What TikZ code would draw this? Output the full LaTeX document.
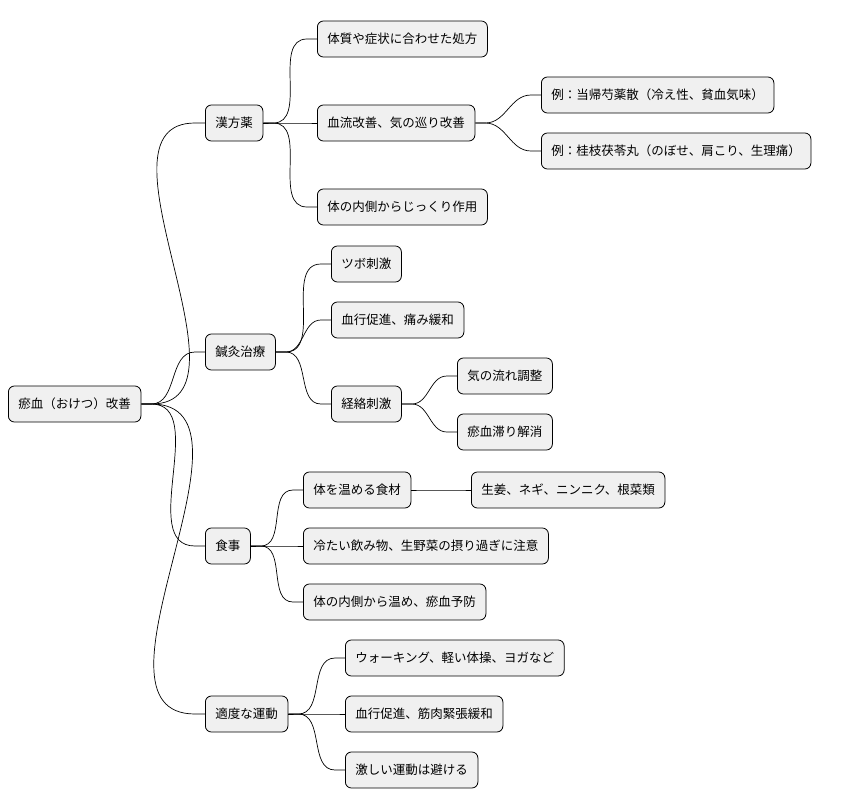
\documentclass[tikz,border=0pt]{standalone}
\usepackage{fontspec}
\setmainfont{Noto Sans CJK JP}
\usetikzlibrary{positioning}
\tikzset{
  topic/.style={draw=black, line width=0.8pt, fill=black!6, rounded corners=6pt,
    anchor=west, minimum height=36pt, inner xsep=10pt, font=\fontsize{12.5}{14}\selectfont},
  link/.style={line width=0.7pt, out=0, in=180}
}
\begin{document}
\begin{tikzpicture}[x=1pt, y=-1pt]
  \useasboundingbox (0,0) rectangle (852,809);
  % 中心
  \node[topic] (root) at (8,404) {瘀血（おけつ）改善};
  % 枝
  \node[topic] (kampo) at (205,123) {漢方薬};
  \node[topic] (shinkyu) at (205,352) {鍼灸治療};
  \node[topic] (shokuji) at (205,546) {食事};
  \node[topic] (undo) at (205,714) {適度な運動};
  % 漢方薬
  \node[topic] (k1) at (317,39) {体質や症状に合わせた処方};
  \node[topic] (k2) at (317,123) {血流改善、気の巡り改善};
  \node[topic] (k3) at (317,207) {体の内側からじっくり作用};
  \node[topic] (k21) at (541,95) {例：当帰芍薬散（冷え性、貧血気味）};
  \node[topic] (k22) at (541,151) {例：桂枝茯苓丸（のぼせ、肩こり、生理痛）};
  % 鍼灸治療
  \node[topic] (s1) at (331,264) {ツボ刺激};
  \node[topic] (s2) at (331,320) {血行促進、痛み緩和};
  \node[topic] (s3) at (331,404) {経絡刺激};
  \node[topic] (s31) at (457,376) {気の流れ調整};
  \node[topic] (s32) at (457,432) {瘀血滞り解消};
  % 食事
  \node[topic] (f1) at (303,490) {体を温める食材};
  \node[topic] (f11) at (471,490) {生姜、ネギ、ニンニク、根菜類};
  \node[topic] (f2) at (303,546) {冷たい飲み物、生野菜の摂り過ぎに注意};
  \node[topic] (f3) at (303,602) {体の内側から温め、瘀血予防};
  % 運動
  \node[topic] (u1) at (345,658) {ウォーキング、軽い体操、ヨガなど};
  \node[topic] (u2) at (345,714) {血行促進、筋肉緊張緩和};
  \node[topic] (u3) at (345,770) {激しい運動は避ける};

  \foreach \p/\c in {root/kampo, root/shinkyu, root/shokuji, root/undo,
      kampo/k1, kampo/k2, kampo/k3, k2/k21, k2/k22,
      shinkyu/s1, shinkyu/s2, shinkyu/s3, s3/s31, s3/s32,
      shokuji/f1, shokuji/f2, shokuji/f3, f1/f11,
      undo/u1, undo/u2, undo/u3}
    \draw[link] (\p.east) -- ++(10,0) to[link] ([xshift=-10]\c.west) -- (\c.west);
\end{tikzpicture}
\end{document}
